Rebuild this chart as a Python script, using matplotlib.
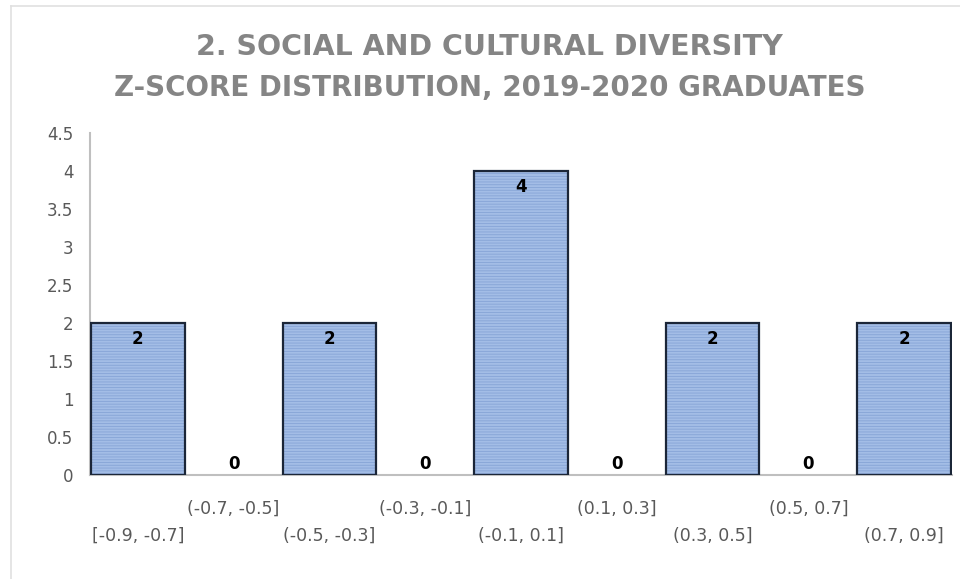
import matplotlib
matplotlib.use("Agg")
import numpy as np
from matplotlib import pyplot as plt
from matplotlib.lines import Line2D

bins = ['[-0.9, -0.7]', '(-0.7, -0.5]', '(-0.5, -0.3]', '(-0.3, -0.1]', '(-0.1, 0.1]',
        '(0.1, 0.3]', '(0.3, 0.5]', '(0.5, 0.7]', '(0.7, 0.9]']
counts = [2, 0, 2, 0, 4, 0, 2, 0, 2]
title1 = '2. SOCIAL AND CULTURAL DIVERSITY'
title2 = 'Z-SCORE DISTRIBUTION, 2019-2020 GRADUATES'

plt.rcParams['font.family'] = ['DejaVu Sans']
plt.rcParams['hatch.linewidth'] = 0.6

fig = plt.figure(figsize=(9.6, 5.79), dpi=100)
ax = fig.add_axes([0.09375, 0.1796, 0.8979, 0.5907])

x = np.arange(len(bins))
# fill with faint horizontal stripes, then the dark outline on top
ax.bar(x, counts, width=0.98, color='#a3bde6', edgecolor='#86a4d6', hatch='------',
       linewidth=0, zorder=2)
# empty bins get no outline so the axis line stays grey there
outline_w = [1.6 if c > 0 else 0 for c in counts]
ax.bar(x, counts, width=0.98, fill=False, edgecolor='#1b2638', linewidth=outline_w, zorder=3)

for xi, c in zip(x, counts):
    if c > 0:
        ax.text(xi, c - 0.09, str(c), ha='center', va='top', fontsize=12,
                fontweight='bold', color='black', zorder=4)
    else:
        ax.text(xi, 0.03, str(c), ha='center', va='bottom', fontsize=12,
                fontweight='bold', color='black', zorder=4)

ax.set_xlim(-0.5, len(bins) - 0.5)
ax.set_ylim(0, 4.5)
ax.set_yticks(np.arange(0, 4.51, 0.5))
ax.set_yticklabels(['0', '0.5', '1', '1.5', '2', '2.5', '3', '3.5', '4', '4.5'])

# staggered category labels: even ones on the lower row, odd ones upper
ax.set_xticks(x[::2])
ax.set_xticklabels(bins[::2])
ax.set_xticks(x[1::2], minor=True)
ax.set_xticklabels(bins[1::2], minor=True)
ax.tick_params(axis='x', which='major', length=0, pad=37, labelsize=12.5, labelcolor='#595959')
ax.tick_params(axis='x', which='minor', length=0, pad=17.5, labelsize=12.5, labelcolor='#595959')
ax.tick_params(axis='y', length=0, pad=12, labelsize=12, labelcolor='#595959')

for s in ['top', 'right']:
    ax.spines[s].set_visible(False)
for s in ['left', 'bottom']:
    ax.spines[s].set_color('#bfbfbf')
    ax.spines[s].set_linewidth(1.5)

fig.text(0.51, 0.919, title1, ha='center', va='center', fontsize=20.5,
         fontweight='bold', color='#858585')
fig.text(0.51, 0.848, title2, ha='center', va='center', fontsize=20,
         fontweight='bold', color='#858585')

# faint chart border (left and top edge)
fig.add_artist(Line2D([0.011, 0.011], [0.0, 0.99], transform=fig.transFigure,
                      color='#e0e0e0', linewidth=1.2))
fig.add_artist(Line2D([0.011, 1.0], [0.99, 0.99], transform=fig.transFigure,
                      color='#e0e0e0', linewidth=1.2))

fig.savefig('out.png', dpi=100)
